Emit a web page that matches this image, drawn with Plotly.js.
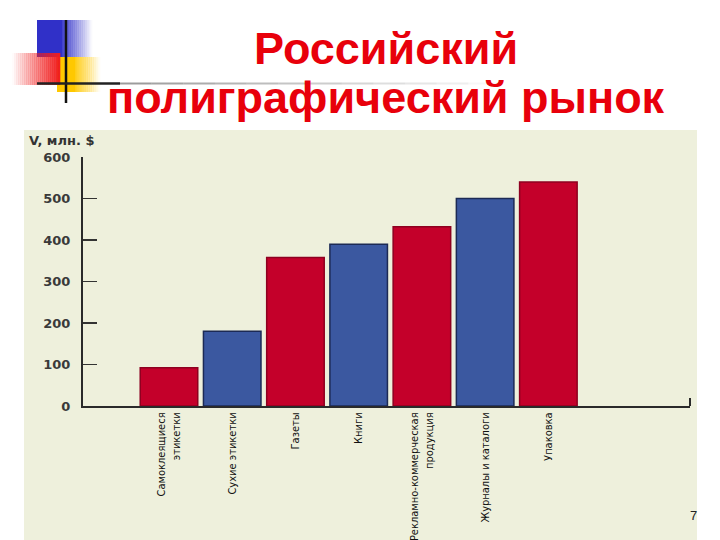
<!DOCTYPE html>
<html>
<head>
<meta charset="utf-8">
<script src="https://cdn.plot.ly/plotly-3.0.1.min.js"></script>
<style>html,body{margin:0;padding:0;background:#fff;}#chart{width:720px;height:540px;}</style>
</head>
<body>
<div id="chart"></div>
<script>
// ---- data ----
const categories = [
  "Самоклеящиеся<br>этикетки",
  "Сухие этикетки",
  "Газеты",
  "Книги",
  "Рекламно-коммерческая<br>продукция",
  "Журналы и каталоги",
  "Упаковка"
];
const values = [92, 180, 358, 390, 432, 500, 540];
const yTickValues = [0, 100, 200, 300, 400, 500, 600];
const yTickLabels = ["0", "100", "200", "300", "400", "500", "600"];
const titleLine1 = "Российский";
const titleLine2 = "полиграфический рынок";
const yAxisLabel = "V, млн. $";
const pageNumber = "7";

// ---- style ----
const RED = "#c4002a", BLUE = "#3b58a0";
const barColors = [RED, BLUE, RED, BLUE, RED, BLUE, RED];
const barLines = ["#8e0020", "#1c2a55", "#8e0020", "#1c2a55", "#8e0020", "#1c2a55", "#8e0020"];
const W = 720, H = 540;
const px = x => x / W;
const py = y => 1 - y / H;

const shapes = [];
// beige panel
shapes.push({type:"rect", xref:"paper", yref:"paper", x0:px(24), x1:px(697), y0:py(540), y1:py(130),
  fillcolor:"#eef0dc", line:{width:0}, layer:"below"});

// gradient helper: strips
function gradRect(x0, x1, y0, y1, rgb, aStart, aEnd, n) {
  const w = (x1 - x0) / n;
  for (let i = 0; i < n; i++) {
    const a = aStart + (aEnd - aStart) * (i + 0.5) / n;
    shapes.push({type:"rect", xref:"paper", yref:"paper",
      x0:px(x0 + i*w), x1:px(x0 + (i+1)*w + 0.3), y0:py(y1), y1:py(y0),
      fillcolor:`rgba(${rgb},${a.toFixed(3)})`, line:{width:0}, layer:"above"});
  }
}
// blue square (solid then fading right)
gradRect(37, 62, 20, 57, "48,48,200", 1, 1, 1);
gradRect(62, 92, 20, 57, "48,48,200", 0.9, 0.0, 15);
// yellow square
gradRect(57, 75, 57, 92, "255,200,0", 1, 1, 1);
gradRect(75, 100, 57, 92, "255,200,0", 0.9, 0.0, 12);
// red square fading to left
gradRect(12, 60, 53, 85, "240,30,30", 0.0, 1, 24);
// lines
shapes.push({type:"line", xref:"paper", yref:"paper", x0:px(66), x1:px(66), y0:py(20), y1:py(103),
  line:{color:"#111", width:2.5}, layer:"above"});
shapes.push({type:"line", xref:"paper", yref:"paper", x0:px(37), x1:px(120), y0:py(83.5), y1:py(83.5),
  line:{color:"#222", width:2.5}, layer:"above"});
const segs = 12;
for (let i = 0; i < segs; i++) {
  const a0 = 120 + i * (380 / segs), a1 = a0 + 380 / segs;
  const op = 0.6 * (1 - i / segs);
  shapes.push({type:"line", xref:"paper", yref:"paper", x0:px(a0), x1:px(a1), y0:py(83.5), y1:py(83.5),
    line:{color:`rgba(90,90,90,${op.toFixed(3)})`, width:2}, layer:"above"});
}
// small end tick of x axis
shapes.push({type:"line", xref:"paper", yref:"paper", x0:px(690), x1:px(690), y0:py(406), y1:py(398),
  line:{color:"#2a2a2a", width:2}, layer:"above"});

const annotations = [
  {text:titleLine1, xref:"paper", yref:"paper", x:px(386), y:py(48), xanchor:"center", yanchor:"middle",
   showarrow:false, font:{family:"Liberation Sans, Arial, sans-serif", size:45, color:"#e8000b", weight:700}},
  {text:titleLine2, xref:"paper", yref:"paper", x:px(386), y:py(98), xanchor:"center", yanchor:"middle",
   showarrow:false, font:{family:"Liberation Sans, Arial, sans-serif", size:45, color:"#e8000b", weight:700}},
  {text:yAxisLabel, xref:"paper", yref:"paper", x:px(27), y:py(141), xanchor:"left", yanchor:"middle",
   showarrow:false, font:{family:"DejaVu Sans, sans-serif", size:13, color:"#333", weight:700}},
  {text:pageNumber, xref:"paper", yref:"paper", x:px(693), y:py(515), xanchor:"center", yanchor:"middle",
   showarrow:false, font:{family:"Liberation Sans, Arial, sans-serif", size:13, color:"#222"}}
];

const trace = {
  type:"bar", x:categories, y:values,
  marker:{color:barColors, line:{color:barLines, width:1.5}},
  hoverinfo:"none"
};

const layout = {
  width:W, height:H,
  margin:{l:0, r:0, t:0, b:0},
  paper_bgcolor:"#ffffff",
  plot_bgcolor:"rgba(0,0,0,0)",
  showlegend:false,
  bargap:0.09,
  xaxis:{
    domain:[83/W, 690/W],
    range:[-1.36, 8.24],
    showline:true, linecolor:"#2a2a2a", linewidth:2,
    showgrid:false, zeroline:false, ticks:"",
    tickangle:-90,
    tickfont:{family:"DejaVu Sans Condensed, Liberation Sans Narrow, sans-serif", size:11, color:"#111"},
    fixedrange:true
  },
  yaxis:{
    domain:[1 - 406/H, 1 - 157/H],
    range:[0, 600],
    showline:true, linecolor:"#2a2a2a", linewidth:2,
    showgrid:false, zeroline:false,
    ticks:"inside", ticklen:14, tickwidth:1.5, tickcolor:"#333",
    tickvals:yTickValues, ticktext:yTickLabels,
    ticklabelstandoff:8,
    tickfont:{family:"DejaVu Sans, sans-serif", size:13, color:"#3a3a3a", weight:700},
    fixedrange:true
  },
  shapes:shapes,
  annotations:annotations
};

Plotly.newPlot("chart", [trace], layout, {staticPlot:true, displayModeBar:false});
</script>
</body>
</html>
